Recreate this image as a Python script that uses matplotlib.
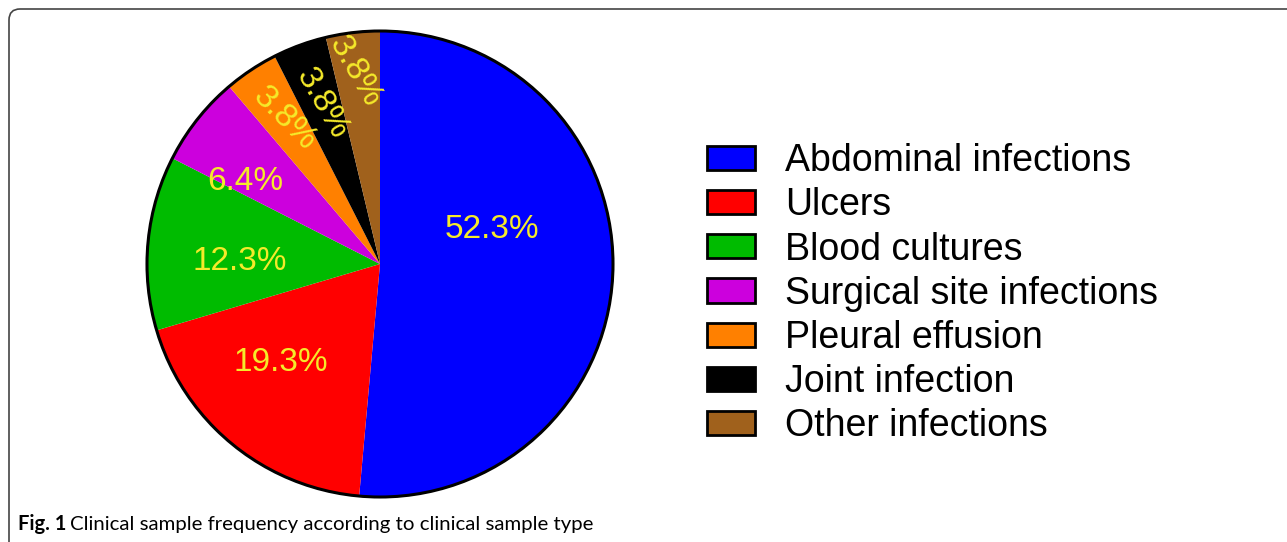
#Pie chart of clinical sample types

#Libraries
import matplotlib
matplotlib.use('Agg')
import matplotlib.pyplot as plt
from matplotlib.patches import Patch, Circle, FancyBboxPatch

#Data
categories=['Abdominal infections','Ulcers','Blood cultures','Surgical site infections',
            'Pleural effusion','Joint infection','Other infections']
percent=[52.3,19.3,12.3,6.4,3.8,3.8,3.8]
colors=['#0000ff','#ff0000','#00bb00','#cc00dd','#ff8000','#000000','#a0611c']

#Label layout (position in pie units, rotation)
label_pos=[(0.481,0.146),(-0.425,-0.421),(-0.601,0.009),(-0.579,0.356),
           (-0.408,0.622),(-0.249,0.687),(-0.107,0.824)]
label_rot=[0,0,0,0,-45,-60,-60]

plt.rcParams['font.family']=['Liberation Sans','DejaVu Sans']

fig=plt.figure(figsize=(12.87,5.42),dpi=100)

#Pie axes: center (380,264) px, radius 233 px
cx,cy,r=380,264,233
W,H=1287,542
ax=fig.add_axes([(cx-r)/W,(H-cy-r)/H,2*r/W,2*r/H])
wedges,_=ax.pie(percent,colors=colors,startangle=90,counterclock=False,radius=1,
                wedgeprops=dict(linewidth=0))
ax.add_patch(Circle((0,0),1,fill=False,edgecolor='black',lw=2.2,clip_on=False))
for p,pos,rot in zip(percent,label_pos,label_rot):
	ax.text(pos[0],pos[1],'%.1f%%'%p,color='#f5ea2a',fontsize=24,ha='center',va='center',
	        rotation=rot,rotation_mode='anchor')
ax.set_xlim(-1,1)
ax.set_ylim(-1,1)
ax.axis('off')

#Legend
handles=[Patch(facecolor=c,edgecolor='black',lw=2) for c in colors]
fig.legend(handles,categories,loc='upper left',bbox_to_anchor=(707/W,1-143/H),
           frameon=False,fontsize=27,handlelength=1.28,handleheight=0.62,
           handletextpad=0.8,labelspacing=0.22,borderpad=0,borderaxespad=0)

#Frame around the figure
fig.patches.append(FancyBboxPatch((9,-60),1400,H-9+60,boxstyle='round,pad=0,rounding_size=11',
                                  transform=None,fill=False,edgecolor='#444444',lw=1.2))

#Caption
fig.text(18/W,1-530/H,'Fig. 1',fontsize=14.5,fontweight='bold',family='Lato',va='baseline')
fig.text(70/W,1-530/H,'Clinical sample frequency according to clinical sample type',
         fontsize=14.7,family='Lato',va='baseline')

plt.savefig('out.png',dpi=100)
